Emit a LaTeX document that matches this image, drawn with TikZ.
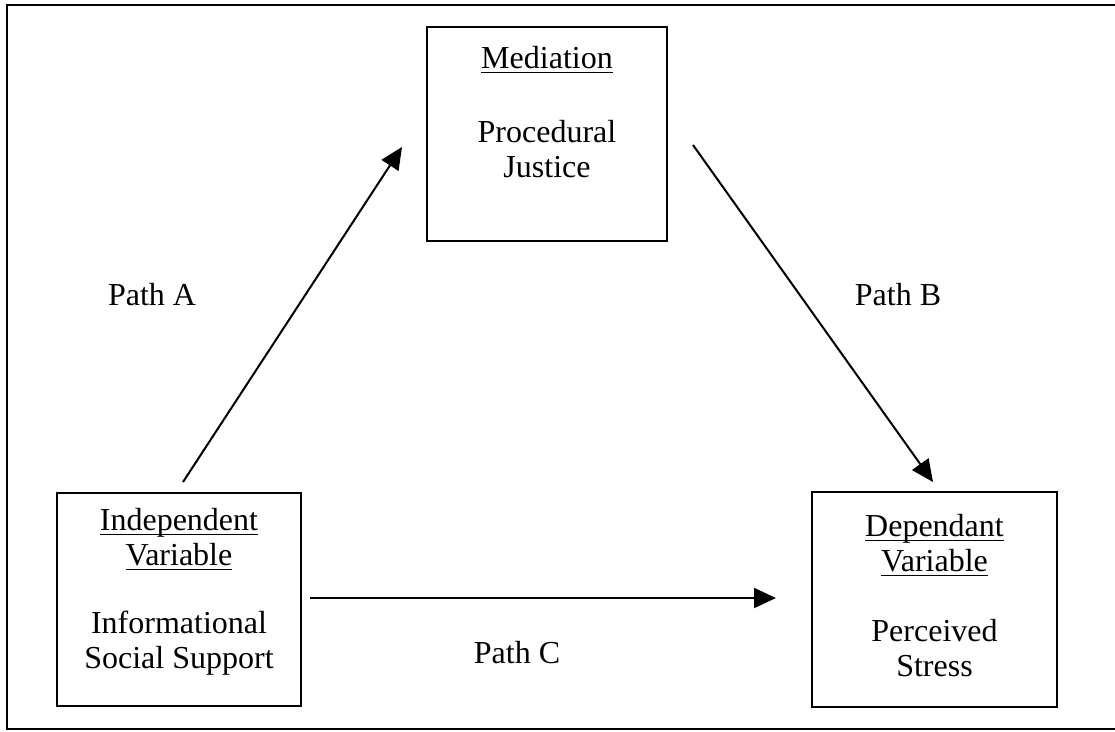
\documentclass[tikz,border=0pt]{standalone}
\usepackage{fontspec}
\setmainfont{Liberation Serif}
\usetikzlibrary{arrows.meta,positioning}

% underline close to the baseline, as in the original
\newcommand{\ulvar}[1]{\setbox0\hbox{#1}\rlap{\rule[-5pt]{\wd0}{1.6pt}}\box0}

\begin{document}
\begin{tikzpicture}[x=1pt,y=-1pt,
   varbox/.style={draw, line width=2pt, inner sep=0pt},
   vartext/.style={align=center, inner sep=0pt, font=\fontsize{32}{35}\selectfont},
   pathlabel/.style={anchor=base, inner sep=0pt, font=\fontsize{32}{35}\selectfont},
   patharrow/.style={line width=2pt, -{Triangle[length=22pt,width=20pt]}}]
   \useasboundingbox (0,0) rectangle (1115,731);

   % outer frame (right side runs off the page)
   \draw[line width=2.4pt] (1120,5) -- (7,5) -- (7,729) -- (1120,729);

   % the three variables
   \node[varbox, minimum width=240pt, minimum height=214pt] (med) at (547,134) {};
   \node[varbox, minimum width=244pt, minimum height=213pt] (ind) at (179,599.5) {};
   \node[varbox, minimum width=245pt, minimum height=215pt] (dep) at (934.5,599.5) {};

   \node[vartext, below=20pt of med.north] (medtext)
      {\ulvar{Mediation}\\[39pt]Procedural\\Justice};
   \node[vartext, below=16pt of ind.north] (indtext)
      {\ulvar{Independent}\\\ulvar{Variable}\\[33pt]Informational\\Social Support};
   \node[vartext, below=23pt of dep.north] (deptext)
      {\ulvar{Dependant}\\\ulvar{Variable}\\[35pt]Perceived\\Stress};

   % paths
   \draw[patharrow] ([shift={(4,-10)}]ind.north) -- ([shift={(-24,13)}]med.west);
   \draw[patharrow] ([shift={(25,11)}]med.east) -- ([shift={(-1.5,-9)}]dep.north);
   \draw[patharrow] ([shift={(8,-1.5)}]ind.east) -- ([shift={(-35,-1.5)}]dep.west);

   \node[pathlabel] (pa) at (152,305) {Path A};
   \node[pathlabel] (pb) at (898,305) {Path B};
   \node[pathlabel] (pc) at (517,663) {Path C};
\end{tikzpicture}
\end{document}
